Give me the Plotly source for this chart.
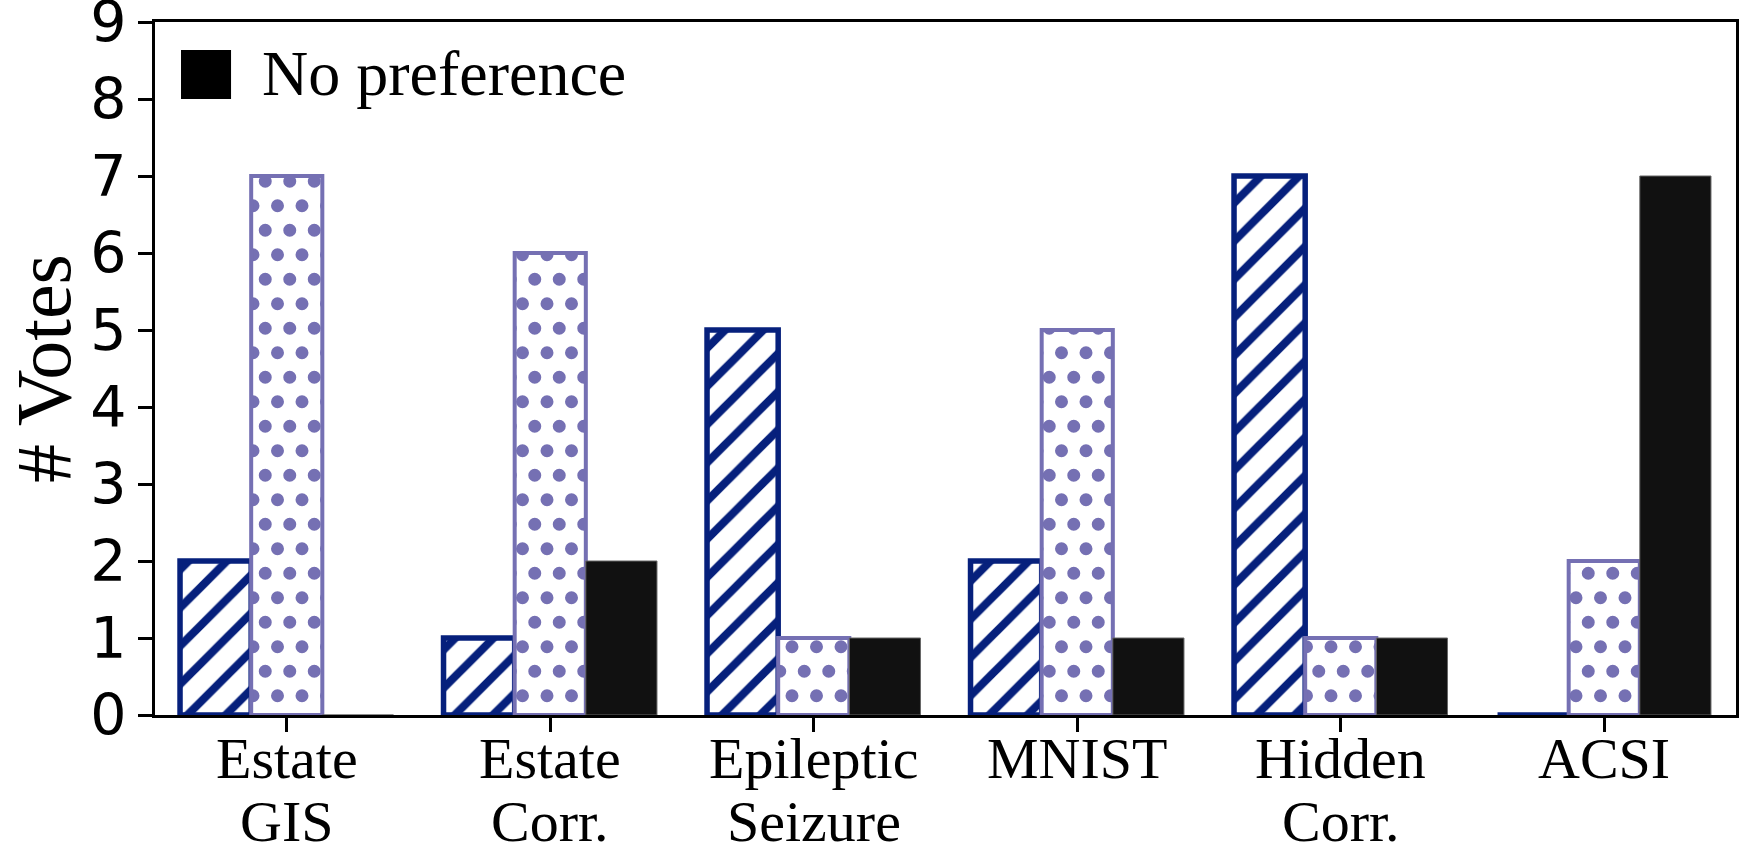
import plotly.graph_objects as go

categories = ["Estate GIS", "Estate Corr.", "Epileptic Seizure", "MNIST", "Hidden Corr.", "ACSI"]
label_line1 = ["Estate", "Estate", "Epileptic", "MNIST", "Hidden", "ACSI"]
label_line2 = ["GIS", "Corr.", "Seizure", "", "Corr.", ""]
hatched_votes = [2, 1, 5, 2, 7, 0]
dotted_votes = [7, 6, 1, 5, 1, 2]
nopref_votes = [0, 2, 1, 1, 1, 7]
y_ticks = [0, 1, 2, 3, 4, 5, 6, 7, 8, 9]
y_title = "# Votes"

NAVY = "#06207c"
PURPLE = "#7570b3"
SERIF = "Liberation Serif"
SANS = "DejaVu Sans"

x = list(range(len(categories)))

# staggered dot pattern (custom path), fallback to plain dots
def circ(cx, cy, r):
    return f"M{cx-r},{cy}a{r},{r} 0 1,0 {2*r},0a{r},{r} 0 1,0 {-2*r},0Z"

s = 24.5
r = 6.5
dot_path = "".join([circ(s/2, s/2, r), circ(1.5*s, s/2, r), circ(0, 1.5*s, r),
                    circ(s, 1.5*s, r), circ(2*s, 1.5*s, r)])

try:
    dot_pattern = go.bar.marker.Pattern(path=dot_path, size=2*s, fgcolor=PURPLE,
                                        bgcolor="white", fillmode="replace")
except Exception:
    dot_pattern = go.bar.marker.Pattern(shape=".", size=s, solidity=0.22, fgcolor=PURPLE,
                                        bgcolor="white", fillmode="replace")

fig = go.Figure()
fig.add_trace(go.Bar(
    x=x, y=hatched_votes, name="Hatched", showlegend=False,
    marker=dict(color="white", line=dict(color=NAVY, width=5.5),
                pattern=dict(shape="/", size=27, solidity=0.3, fgcolor=NAVY,
                             bgcolor="white", fillmode="replace")),
))
fig.add_trace(go.Bar(
    x=x, y=dotted_votes, name="Dotted", showlegend=False,
    marker=dict(color="white", line=dict(color=PURPLE, width=4), pattern=dot_pattern),
))
fig.add_trace(go.Bar(
    x=x, y=nopref_votes, name="No preference", showlegend=False,
    marker=dict(color="#111111", line=dict(color="#666666", width=1)),
))

XFONT = dict(family=SERIF, size=58, color="black")
annotations = []
for i in x:
    # first line: bottom of its box sits where the second line's box starts
    annotations.append(dict(x=i, y=-0.1108, xref="x", yref="paper", text=label_line1[i],
                            showarrow=False, xanchor="center", yanchor="bottom",
                            borderpad=0, font=XFONT))
    if label_line2[i]:
        annotations.append(dict(x=i, y=-0.2015, xref="x", yref="paper", text=label_line2[i],
                                showarrow=False, xanchor="center", yanchor="bottom",
                                borderpad=0, font=XFONT))

# y-axis title as rotated annotation
annotations.append(dict(x=-0.0705, y=0.5, xref="paper", yref="paper", text=y_title,
                        textangle=-90, showarrow=False, xanchor="center", yanchor="middle",
                        borderpad=0, font=dict(family=SERIF, size=78, color="black")))

# manual legend entry
annotations.append(dict(x=0.0664, y=0.925, xref="paper", yref="paper", text="No preference",
                        showarrow=False, xanchor="left", yanchor="middle",
                        font=dict(family=SERIF, size=64, color="black")))
shapes = [dict(type="rect", xref="paper", yref="paper", x0=0.01645, x1=0.0481,
               y0=0.8889, y1=0.9596, fillcolor="black", line=dict(width=0))]

fig.update_layout(
    width=1739, height=855,
    margin=dict(l=155, r=3, t=22, b=140, autoexpand=False),
    paper_bgcolor="white", plot_bgcolor="white",
    barmode="group", bargap=0.19, bargroupgap=0,
    annotations=annotations, shapes=shapes,
    showlegend=False,
)
fig.update_xaxes(
    range=[-0.5, 5.5], tickmode="array", tickvals=x, showticklabels=False,
    ticks="outside", ticklen=14, tickwidth=3, tickcolor="black",
    showline=True, linecolor="black", linewidth=3, mirror=True,
    showgrid=False, zeroline=False, automargin=False,
)
fig.update_yaxes(
    range=[0, 9], tickmode="array", tickvals=y_ticks, ticklabeloverflow="allow",
    ticks="outside", ticklen=14, tickwidth=3, tickcolor="black",
    tickfont=dict(family=SANS, size=57, color="black"),
    showline=True, linecolor="black", linewidth=3, mirror=True,
    showgrid=False, zeroline=False, automargin=False,
)

fig.write_html("out.html")
